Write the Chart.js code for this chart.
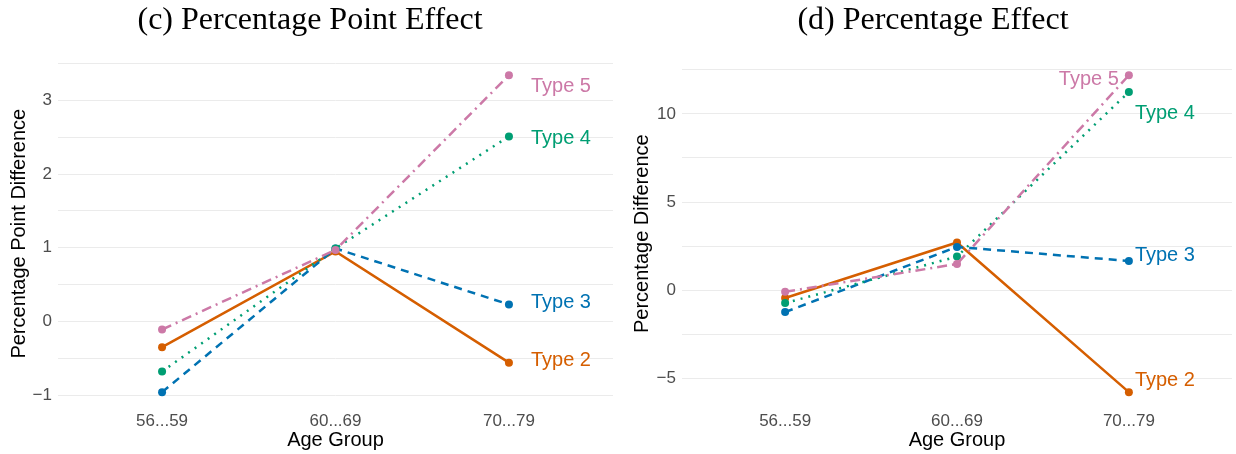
<!DOCTYPE html>
<html lang="en">
<head>
<meta charset="UTF-8">
<title>Age group effects</title>
<style>
  body { margin: 0; background: #fff; }
  .panel { display: inline-block; width: 618px; height: 454px; vertical-align: top; }
</style>
</head>
<body>
<div class="panel"><canvas id="chartC" width="618" height="454"></canvas></div><div class="panel"><canvas id="chartD" width="618" height="454"></canvas></div>

<script src="https://cdn.jsdelivr.net/npm/chart.js"></script>
<script>
// categories
const ageGroups = ['56...59', '60...69', '70...79'];
const typeNames = ['Type 2', 'Type 3', 'Type 4', 'Type 5'];

// (c) percentage point effect
const ppType2 = [-0.35, 0.95, -0.56];
const ppType3 = [-0.96, 0.99, 0.23];
const ppType4 = [-0.68, 0.99, 2.51];
const ppType5 = [-0.11, 0.97, 3.34];

// (d) percentage effect
const pctType2 = [-0.45, 2.7, -5.8];
const pctType3 = [-1.25, 2.45, 1.65];
const pctType4 = [-0.74, 1.9, 11.25];
const pctType5 = [-0.1, 1.48, 12.2];

// y ticks (gridlines); only whole labels get text
const ppTicks = [-1, -0.5, 0, 0.5, 1, 1.5, 2, 2.5, 3, 3.5];
const pctTicks = [-5, -2.5, 0, 2.5, 5, 7.5, 10, 12.5];

const colors = ['#D55E00', '#0072B2', '#009E73', '#CC79A7'];
const dashes = [[], [8, 6], [2, 6], [10, 5, 2, 5]];
const sans = '"Liberation Sans", Arial, sans-serif';

// label plugin: series name next to last point
const endLabels = {
  id: 'endLabels',
  afterDatasetsDraw(chart, args, opts) {
    const ctx = chart.ctx;
    ctx.save();
    ctx.font = '20px ' + sans;
    ctx.textBaseline = 'middle';
    chart.data.datasets.forEach(function(ds, i) {
      const meta = chart.getDatasetMeta(i);
      const pt = meta.data[meta.data.length - 1];
      const o = opts.offsets[i];
      ctx.fillStyle = ds.borderColor;
      ctx.textAlign = o[2];
      ctx.fillText(ds.label, pt.x + o[0], pt.y + o[1]);
    });
    ctx.restore();
  }
};

function makeChart(id, title, yTitle, series, ticks, yMin, yMax, labelStep, padLeft, padRight, axisWidth, offsets) {
  const datasets = series.map(function(vals, i) {
    return {
      label: typeNames[i],
      data: vals.map(function(v, j) { return { x: j, y: v }; }),
      borderColor: colors[i],
      backgroundColor: colors[i],
      borderDash: dashes[i],
      borderWidth: 2.5,
      pointRadius: 4,
      pointBorderWidth: 0,
      tension: 0
    };
  });
  return new Chart(document.getElementById(id), {
    type: 'line',
    data: { datasets: datasets.slice().reverse() },
    plugins: [endLabels],
    options: {
      responsive: false,
      animation: false,
      layout: { padding: { left: padLeft, right: padRight, top: 0, bottom: 2 } },
      plugins: {
        legend: { display: false },
        tooltip: { enabled: false },
        title: {
          display: true,
          text: title,
          color: '#000',
          font: { family: '"Liberation Serif", "DejaVu Serif", serif', size: 32, weight: 'normal' },
          padding: { top: 1, bottom: 20 }
        },
        endLabels: { offsets: offsets.slice().reverse() }
      },
      scales: {
        x: {
          type: 'linear',
          min: -0.6,
          max: 2.6,
          afterBuildTicks: function(s) { s.ticks = ageGroups.map(function(g, j) { return { value: j }; }); },
          afterFit: function(s) { s.height = 44; },
          grid: { display: false, drawTicks: false },
          border: { display: false },
          ticks: {
            color: '#4d4d4d',
            font: { family: sans, size: 17 },
            padding: 3,
            callback: function(v) { return ageGroups[v]; }
          },
          title: { display: true, text: 'Age Group', color: '#000', font: { family: sans, size: 20 }, padding: 0 }
        },
        y: {
          min: yMin,
          max: yMax,
          afterBuildTicks: function(s) { s.ticks = ticks.map(function(v) { return { value: v }; }); },
          afterFit: function(s) { s.width = axisWidth; },
          grid: { color: '#ebebeb', lineWidth: 1, drawTicks: false },
          border: { display: false },
          ticks: {
            color: '#4d4d4d',
            padding: 6,
            font: { family: sans, size: 17 },
            callback: function(v) {
              if (v % labelStep !== 0) return '';
              return v < 0 ? '\u2212' + Math.abs(v) : String(v);
            }
          },
          title: { display: true, text: yTitle, color: '#000', font: { family: sans, size: 20 }, padding: { top: 0, bottom: 4 } }
        }
      }
    }
  });
}

makeChart('chartC', '(c) Percentage Point Effect', 'Percentage Point Difference',
  [ppType2, ppType3, ppType4, ppType5], ppTicks, -1.175, 3.555, 1, 7, 5, 51,
  [[22, -2, 'left'], [22, -2, 'left'], [22, 2, 'left'], [22, 11, 'left']]);

makeChart('chartD', '(d) Percentage Effect', 'Percentage Difference',
  [pctType2, pctType3, pctType4, pctType5], pctTicks, -6.7, 13.1, 5, 12, 0, 52,
  [[6, -12, 'left'], [6, -6, 'left'], [6, 22, 'left'], [-10, 4, 'right']]);
</script>
</body>
</html>
